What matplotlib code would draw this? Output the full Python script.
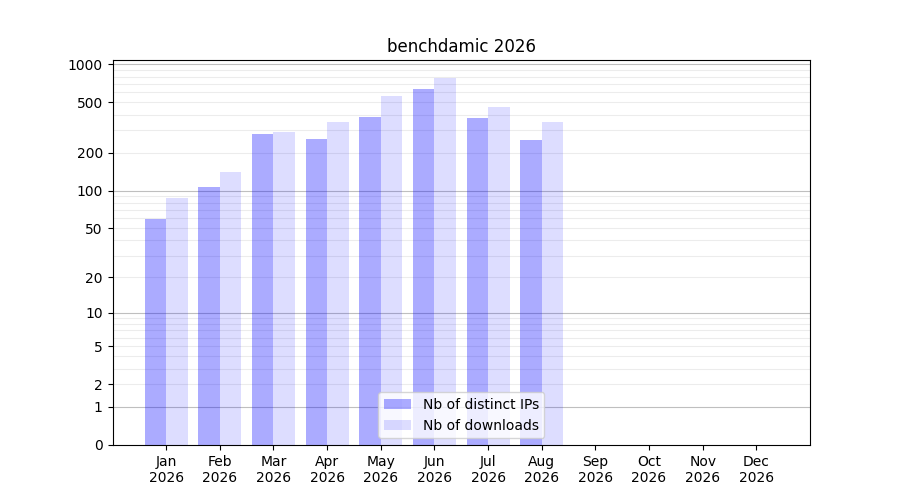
import numpy as np
import matplotlib
matplotlib.use("Agg")
import matplotlib.pyplot as plt

months = ["Jan", "Feb", "Mar", "Apr", "May", "Jun", "Jul", "Aug", "Sep", "Oct", "Nov", "Dec"]
year = "2026"
distinct_ips = [59, 107, 281, 257, 383, 638, 376, 252, 0, 0, 0, 0]
downloads = [87, 141, 292, 350, 562, 779, 460, 350, 0, 0, 0, 0]
ytick_vals = [0, 1, 2, 5, 10, 20, 50, 100, 200, 500, 1000]

fig, ax = plt.subplots(figsize=(9, 5), dpi=100)
ax.set_yscale("function", functions=(lambda v: np.log10(1 + np.clip(v, -0.999999, None)),
                                     lambda t: 10 ** t - 1))
x = np.arange(len(months))
w = 0.4
ax.bar(x - w / 2, distinct_ips, width=w, color="blue", alpha=0.33, label="Nb of distinct IPs")
ax.bar(x + w / 2, downloads, width=w, color="blue", alpha=0.133, label="Nb of downloads")

for dec in [1, 10, 100]:
    for m in range(2, 10):
        ax.axhline(dec * m, color="gray", alpha=0.15, lw=0.8, zorder=0.5)
for dec in [1, 10, 100, 1000]:
    ax.axhline(dec, color="gray", alpha=0.5, lw=0.8, zorder=0.5)

ax.set_xticks(x)
ax.set_xticklabels([f"{m}\n{year}" for m in months])
ax.set_yticks(ytick_vals)
ax.set_yticklabels([str(v) for v in ytick_vals])
ax.minorticks_off()
ax.set_xlim(-1, 12)
ax.set_ylim(0, 1080)
ax.set_title("benchdamic 2026")
ax.legend(loc="lower center")
fig.savefig("out.png")
